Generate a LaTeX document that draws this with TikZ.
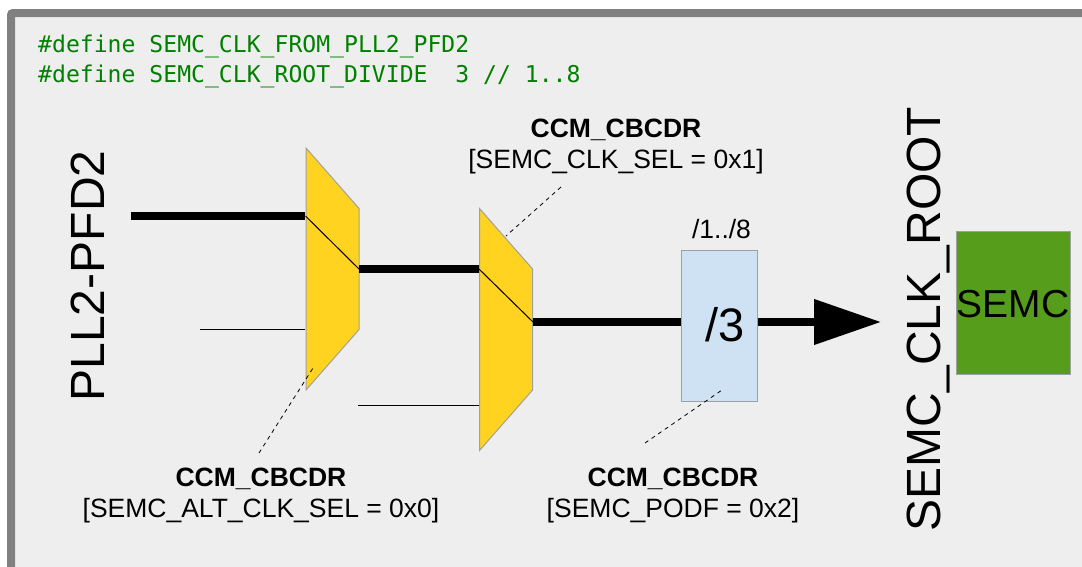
\documentclass[tikz,border=0pt]{standalone}
\usepackage{fontspec}
\setmainfont{Liberation Sans}
\newfontfamily\codefont{DejaVu Sans Mono}
\usetikzlibrary{shapes.geometric, positioning, calc, arrows.meta}
\definecolor{framegray}{HTML}{808080}
\definecolor{panelgray}{HTML}{EEEEEE}
\definecolor{muxyellow}{HTML}{FFD320}
\definecolor{divblue}{HTML}{CFE2F3}
\definecolor{semcgreen}{HTML}{579D1C}
\definecolor{edgegray}{HTML}{A0A0A0}
\definecolor{codegreen}{HTML}{008000}

\begin{document}
\begin{tikzpicture}[x=1pt, y=-1pt,
    mux/.style={draw=edgegray, fill=muxyellow, line width=1pt, trapezium, trapezium stretches=true, trapezium angle=63.5, shape border rotate=270, minimum width=242pt, minimum height=53pt, inner sep=1pt},
    reglabel/.style={align=center, inner sep=0pt, font=\fontsize{26.5}{31}\selectfont},
    biglabel/.style={rotate=90, inner sep=0pt, font=\fontsize{48}{50}\selectfont},
    codeline/.style={anchor=base west, inner sep=0pt, text=codegreen, font=\codefont\fontsize{23.1}{27}\selectfont},
    buswire/.style={line width=7.5pt},
    thinwire/.style={line width=1pt},
    dashwire/.style={line width=0.8pt, dash pattern=on 4pt off 4pt}]
    \useasboundingbox (0, 0) rectangle (1082, 566);
    \clip (0, 0) rectangle (1082, 566);
    \draw[draw=framegray, fill=panelgray, line width=8pt, rounded corners=2pt] (11, 13) rectangle (1120, 600);

    \node[codeline] (defsrc) at (38, 52) {\#define SEMC\_CLK\_FROM\_PLL2\_PFD2};
    \node[codeline] (defdiv) at (38, 82) {\#define SEMC\_CLK\_ROOT\_DIVIDE~~3 // 1..8};

    \node[biglabel] (pfdlabel) at (88, 276) {PLL2-PFD2};
    \node[biglabel] (rootlabel) at (929, 319) {SEMC\_CLK\_ROOT};

    \node[mux] (muxalt) at (332.5, 269) {};
    \node[mux] (muxsel) at (506, 329.5) {};
    \node[draw=edgegray, fill=divblue, line width=1pt, minimum width=76pt, minimum height=151pt, inner sep=0pt] (divbox) at (719, 325.5) {};
    \node[inner sep=0pt, font=\fontsize{47}{50}\selectfont] (divtext) at (725, 325) {/3};
    \node[inner sep=0pt, font=\fontsize{26.5}{30}\selectfont] (divrange) at (721.5, 229) {/1../8};
    \node[draw=edgegray, fill=semcgreen, line width=1pt, minimum width=114pt, minimum height=143pt, inner sep=0pt] (semcbox) at (1013, 302.5) {};
    \node[inner sep=0pt, font=\fontsize{39}{42}\selectfont] (semctext) at (1013, 304) {SEMC};

    \coordinate (pfdin) at (131, 216);
    \coordinate (altin) at (200, 329);
    \coordinate (selin) at (358, 405.5);
    \coordinate (muxaltout) at (359, 269);
    \coordinate (muxselout) at (533, 322);
    \coordinate (clktip) at (881, 322);

    % buses
    \draw[buswire] (pfdin) -- (muxalt.west |- pfdin);
    \draw[buswire] (muxaltout) -- (muxsel.west |- muxaltout);
    \draw[buswire] (muxselout) -- (divbox.west |- muxselout);
    \draw[buswire, -{Triangle[length=67pt, width=44pt]}] (divbox.east |- clktip) -- (clktip);

    % unused inputs
    \draw[thinwire] (altin) -- (muxalt.west |- altin);
    \draw[thinwire] (selin) -- (muxsel.west |- selin);

    % inside the muxes
    \draw[thinwire] (muxalt.west |- pfdin) -- (muxaltout);
    \draw[thinwire] (muxsel.west |- muxaltout) -- (muxselout);

    \node[reglabel] (altreg) at (261, 495) {\textbf{CCM\_CBCDR}\\{}[SEMC\_ALT\_CLK\_SEL = 0x0]};
    \node[reglabel] (selreg) at (616, 146) {\textbf{CCM\_CBCDR}\\{}[SEMC\_CLK\_SEL = 0x1]};
    \node[reglabel] (podfreg) at (673, 495) {\textbf{CCM\_CBCDR}\\{}[SEMC\_PODF = 0x2]};

    \coordinate (alttip) at (313, 368);
    \coordinate (seltip) at (506, 236);
    \coordinate (podftip) at (722, 390);
    \coordinate (altfoot) at (259, 453);
    \coordinate (selfoot) at (561, 187);
    \coordinate (podffoot) at (645, 443);
    \draw[dashwire] (altfoot) -- (alttip);
    \draw[dashwire] (selfoot) -- (seltip);
    \draw[dashwire] (podffoot) -- (podftip);
\end{tikzpicture}
\end{document}
